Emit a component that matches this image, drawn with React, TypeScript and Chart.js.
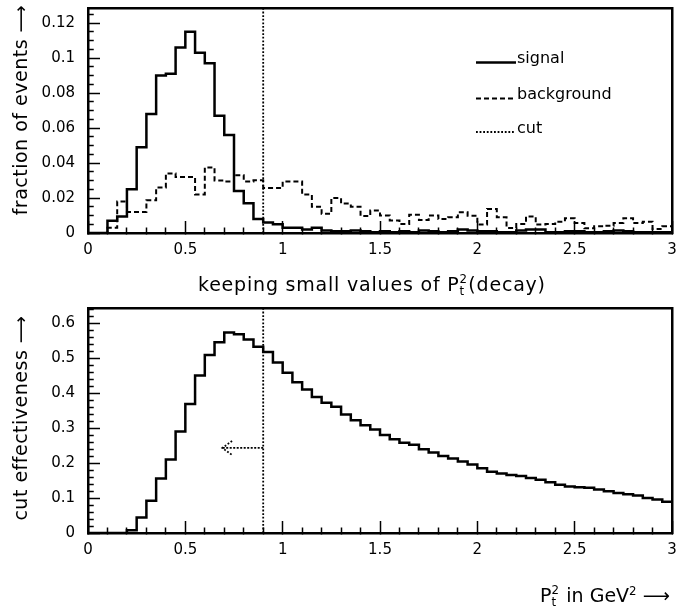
import React, { useEffect, useRef } from 'react';
import { Chart, registerables } from 'chart.js';

Chart.register(...registerables);

const FONT = 'DejaVu Sans';

// Histogram binning along P_t^2 (GeV^2)
const BIN_WIDTH = 0.05;
const X_MIN = 0;
const X_MAX = 3;
const X_MINOR_STEP = 0.1;
const X_MAJOR_TICKS = [0, 0.5, 1, 1.5, 2, 2.5, 3];

// Upper panel: fraction of events per 0.05 GeV^2 bin (bins start at 0)
const signalFraction = [
  0, 0, 0.007, 0.0095, 0.025, 0.049, 0.068, 0.09, 0.091, 0.106,
  0.115, 0.103, 0.097, 0.067, 0.056, 0.024, 0.017, 0.008, 0.006, 0.005,
  0.003, 0.003, 0.002, 0.003, 0.0015, 0.001, 0.001, 0.0015, 0.001, 0.0005,
  0.001, 0.0005, 0.001, 0.0005, 0.0015, 0.001, 0.0005, 0.001, 0.002, 0.0015,
  0.001, 0.001, 0.0005, 0.0005, 0.0015, 0.002, 0.002, 0.0005, 0.0005, 0.001,
  0.001, 0.0005, 0.0005, 0.001, 0.0015, 0.001, 0.0005, 0.0005, 0.0005, 0.0005,
];

const backgroundFraction = [
  0, 0, 0.003, 0.018, 0.012, 0.012, 0.0187, 0.026, 0.034, 0.032,
  0.032, 0.022, 0.0375, 0.03, 0.0295, 0.033, 0.0295, 0.0302, 0.0257, 0.0257,
  0.0295, 0.0295, 0.022, 0.015, 0.011, 0.02, 0.0168, 0.015, 0.0097, 0.0128,
  0.01, 0.0072, 0.0051, 0.0105, 0.0074, 0.01, 0.008, 0.009, 0.0118, 0.0099,
  0.0048, 0.0137, 0.009, 0.0029, 0.0051, 0.0095, 0.0048, 0.0051, 0.0065, 0.0084,
  0.0057, 0.0027, 0.0038, 0.0042, 0.0057, 0.0084, 0.0057, 0.0065, 0.0023, 0.0038,
];

const TOP_Y_MAX = 0.1286;
const TOP_Y_MINOR_STEP = 0.005;
const TOP_Y_MAJOR_TICKS = [0, 0.02, 0.04, 0.06, 0.08, 0.1, 0.12];

// Lower panel: cut effectiveness when keeping values below each bin edge
const cutEffectiveness = [
  0, 0, 0, 0, 0.008, 0.044, 0.092, 0.156, 0.21, 0.29,
  0.369, 0.45, 0.509, 0.545, 0.573, 0.568, 0.553, 0.532, 0.517, 0.487,
  0.458, 0.431, 0.41, 0.389, 0.372, 0.361, 0.339, 0.322, 0.308, 0.296,
  0.28, 0.268, 0.258, 0.252, 0.239, 0.23, 0.22, 0.213, 0.204, 0.196,
  0.185, 0.175, 0.17, 0.166, 0.163, 0.157, 0.152, 0.145, 0.138, 0.133,
  0.131, 0.129, 0.124, 0.119, 0.114, 0.111, 0.107, 0.1, 0.096, 0.089,
];

const BOTTOM_Y_MAX = 0.643;
const BOTTOM_Y_MINOR_STEP = 0.02;
const BOTTOM_Y_MAJOR_TICKS = [0, 0.1, 0.2, 0.3, 0.4, 0.5, 0.6];

// Selection cut and the "keep below" arrow
const CUT_VALUE = 0.9;
const ARROW_TIP_X = 0.69;
const ARROW_BARB_X = 0.74;
const ARROW_Y = 0.243;
const ARROW_BARB_DY = 0.02;

// Frame geometry (canvas pixels)
const CANVAS_W = 676;
const TOP_CANVAS_H = 300;
const BOTTOM_CANVAS_H = 309;
const PLOT_LEFT = 88;
const PLOT_TOP = 8;
const PLOT_BOTTOM = 233;
const PLOT_RIGHT_PAD = 4;

const INK = '#000';

const isMajor = (v: number | undefined, majors: number[]) =>
  v !== undefined && majors.some((m) => Math.abs(m - v) < 1e-9);

const majorLabel = (v: number, majors: number[]) => {
  const m = majors.find((t) => Math.abs(t - v) < 1e-9);
  return m === undefined ? '' : String(m);
};

// Step-histogram points: each bin's lower edge with its content, plus the closing edge.
// Drawn with stepped 'before', so a value is held until the next edge.
const toSteps = (vals: number[]) =>
  vals
    .map((y, i) => ({ x: X_MIN + i * BIN_WIDTH, y }))
    .concat([{ x: X_MIN + vals.length * BIN_WIDTH, y: vals[vals.length - 1] }]);

// Ticks point into the frame; minor ones are shortened with a dash pattern
const xAxis = (canvasH: number) => ({
  type: 'linear',
  position: 'bottom',
  min: X_MIN,
  max: X_MAX,
  afterFit: (s: any) => {
    s.height = canvasH - PLOT_BOTTOM;
    s.paddingLeft = 0;
    s.paddingRight = 0;
  },
  ticks: {
    stepSize: X_MINOR_STEP,
    includeBounds: false,
    autoSkip: false,
    maxRotation: 0,
    minRotation: 0,
    padding: 20,
    color: INK,
    font: { family: FONT, size: 15 },
    callback: (v: number) => majorLabel(v, X_MAJOR_TICKS),
  },
  grid: {
    drawOnChartArea: false,
    tickLength: -12,
    tickWidth: 1.5,
    tickColor: INK,
    tickBorderDash: (c: any) => (isMajor(c.tick?.value, X_MAJOR_TICKS) ? [] : [7, 30]),
  },
  border: { display: true, color: INK, width: 2.5 },
});

const yAxis = (max: number, step: number, majors: number[]) => ({
  type: 'linear',
  position: 'left',
  min: 0,
  max,
  afterFit: (s: any) => {
    s.width = PLOT_LEFT;
    s.paddingTop = 0;
    s.paddingBottom = 0;
  },
  ticks: {
    stepSize: step,
    includeBounds: false,
    autoSkip: false,
    padding: 25,
    color: INK,
    font: { family: FONT, size: 15 },
    callback: (v: number) => majorLabel(v, majors),
  },
  grid: {
    drawOnChartArea: false,
    tickLength: -12,
    tickWidth: 1.5,
    tickColor: INK,
    tickBorderDash: (c: any) => (isMajor(c.tick?.value, majors) ? [] : [7, 30]),
    tickBorderDashOffset: (c: any) => (isMajor(c.tick?.value, majors) ? 0 : 30.75),
  },
  border: { display: true, color: INK, width: 2.5 },
});

// Plain axes used only to close the frame on the top and right sides
const frameAxes = (yMax: number) => ({
  xTop: {
    type: 'linear',
    position: 'top',
    min: X_MIN,
    max: X_MAX,
    afterFit: (s: any) => {
      s.height = 0;
      s.paddingLeft = 0;
      s.paddingRight = 0;
    },
    ticks: { display: false },
    grid: { display: false },
    border: { display: true, color: INK, width: 2.5 },
  },
  yRight: {
    type: 'linear',
    position: 'right',
    min: 0,
    max: yMax,
    afterFit: (s: any) => {
      s.width = 0;
      s.paddingTop = 0;
      s.paddingBottom = 0;
    },
    ticks: { display: false },
    grid: { display: false },
    border: { display: true, color: INK, width: 2.5 },
  },
});

const cutLine = (yMax: number) => ({
  label: 'cut',
  data: [
    { x: CUT_VALUE, y: 0 },
    { x: CUT_VALUE, y: yMax },
  ],
  borderColor: INK,
  borderWidth: 1.8,
  borderDash: [1.8, 1.8],
  pointRadius: 0,
  fill: false,
});

const baseOptions = {
  responsive: false,
  maintainAspectRatio: false,
  animation: false,
  devicePixelRatio: 1,
  events: [],
  layout: { padding: { top: PLOT_TOP, right: PLOT_RIGHT_PAD, left: 0, bottom: 0 } },
  plugins: { legend: { display: false }, tooltip: { enabled: false } },
};

const topConfig = (): any => ({
  type: 'line',
  data: {
    datasets: [
      {
        label: 'signal',
        data: toSteps(signalFraction),
        stepped: 'before',
        borderColor: INK,
        borderWidth: 2.5,
        pointRadius: 0,
        fill: false,
      },
      {
        label: 'background',
        data: toSteps(backgroundFraction),
        stepped: 'before',
        borderColor: INK,
        borderWidth: 2,
        borderDash: [5, 3],
        pointRadius: 0,
        fill: false,
      },
      cutLine(TOP_Y_MAX),
    ],
  },
  options: {
    ...baseOptions,
    scales: {
      x: xAxis(TOP_CANVAS_H),
      y: yAxis(TOP_Y_MAX, TOP_Y_MINOR_STEP, TOP_Y_MAJOR_TICKS),
      ...frameAxes(TOP_Y_MAX),
    },
  },
});

const bottomConfig = (): any => ({
  type: 'line',
  data: {
    datasets: [
      {
        label: 'cut effectiveness',
        data: toSteps(cutEffectiveness),
        stepped: 'before',
        borderColor: INK,
        borderWidth: 2.5,
        pointRadius: 0,
        fill: false,
      },
      cutLine(BOTTOM_Y_MAX),
      {
        label: 'arrow shaft',
        data: [
          { x: CUT_VALUE, y: ARROW_Y },
          { x: ARROW_TIP_X, y: ARROW_Y },
        ],
        borderColor: INK,
        borderWidth: 1.8,
        borderDash: [2, 1.5],
        pointRadius: 0,
        fill: false,
      },
      {
        label: 'arrow head',
        data: [
          { x: ARROW_BARB_X, y: ARROW_Y + ARROW_BARB_DY },
          { x: ARROW_TIP_X, y: ARROW_Y },
          { x: ARROW_BARB_X, y: ARROW_Y - ARROW_BARB_DY },
        ],
        borderColor: INK,
        borderWidth: 1.8,
        borderDash: [1.8, 1.8],
        pointRadius: 0,
        fill: false,
      },
    ],
  },
  options: {
    ...baseOptions,
    scales: {
      x: xAxis(BOTTOM_CANVAS_H),
      y: yAxis(BOTTOM_Y_MAX, BOTTOM_Y_MINOR_STEP, BOTTOM_Y_MAJOR_TICKS),
      ...frameAxes(BOTTOM_Y_MAX),
    },
  },
});

// "P" with subscript t and superscript 2 stacked
function PtSquared() {
  return (
    <span>
      P
      <span
        style={{
          display: 'inline-block',
          position: 'relative',
          fontSize: '0.62em',
          verticalAlign: '-0.35em',
          lineHeight: 1,
          minWidth: '0.75em',
        }}
      >
        t
        <span style={{ position: 'absolute', left: 0, top: '-1.05em' }}>2</span>
      </span>
    </span>
  );
}

const abs = (style: React.CSSProperties): React.CSSProperties => ({
  position: 'absolute',
  whiteSpace: 'nowrap',
  ...style,
});

const legendText: React.CSSProperties = { fontSize: 16, lineHeight: '16px', left: 517 };

export default function App() {
  const topRef = useRef<HTMLCanvasElement>(null);
  const bottomRef = useRef<HTMLCanvasElement>(null);

  useEffect(() => {
    Chart.defaults.font.family = FONT;
    const top = new Chart(topRef.current as HTMLCanvasElement, topConfig());
    const bottom = new Chart(bottomRef.current as HTMLCanvasElement, bottomConfig());
    return () => {
      top.destroy();
      bottom.destroy();
    };
  }, []);

  return (
    <div
      style={{
        position: 'absolute',
        left: 0,
        top: 0,
        width: CANVAS_W,
        height: TOP_CANVAS_H + BOTTOM_CANVAS_H,
        background: '#fff',
        color: INK,
        fontFamily: FONT,
        overflow: 'hidden',
      }}
    >
      <canvas
        ref={topRef}
        width={CANVAS_W}
        height={TOP_CANVAS_H}
        style={{ position: 'absolute', left: 0, top: 0, width: CANVAS_W, height: TOP_CANVAS_H }}
      />
      <canvas
        ref={bottomRef}
        width={CANVAS_W}
        height={BOTTOM_CANVAS_H}
        style={{
          position: 'absolute',
          left: 0,
          top: TOP_CANVAS_H,
          width: CANVAS_W,
          height: BOTTOM_CANVAS_H,
        }}
      />

      {/* legend of the upper panel */}
      <svg
        width={44}
        height={90}
        style={{ position: 'absolute', left: 474, top: 50 }}
      >
        <line x1={2} x2={42} y1={12.5} y2={12.5} stroke={INK} strokeWidth={2.5} />
        <line x1={2} x2={42} y1={48.5} y2={48.5} stroke={INK} strokeWidth={2} strokeDasharray="5 3" />
        <line x1={2} x2={41} y1={82} y2={82} stroke={INK} strokeWidth={1.8} strokeDasharray="1.8 1.8" />
      </svg>
      <div style={abs({ ...legendText, top: 49.5 })}>signal</div>
      <div style={abs({ ...legendText, top: 85.5 })}>background</div>
      <div style={abs({ ...legendText, top: 119.5 })}>cut</div>

      {/* axis titles */}
      <div style={abs({ left: 198, top: 275, fontSize: 19, lineHeight: '19px', letterSpacing: 0.8 })}>
        keeping small values of <PtSquared />(decay)
      </div>
      <div style={abs({ left: 540, top: 582, fontSize: 19, lineHeight: '19px' })}>
        <PtSquared /> in GeV
        <span style={{ fontSize: '0.62em', verticalAlign: '0.6em' }}>2</span> ⟶
      </div>
      <div
        style={abs({
          left: 19.5,
          top: 110,
          fontSize: 19,
          lineHeight: '19px',
          letterSpacing: 0.5,
          transform: 'translate(-50%, -50%) rotate(-90deg)',
        })}
      >
        fraction of events ⟶
      </div>
      <div
        style={abs({
          left: 19.5,
          top: 418,
          fontSize: 19,
          lineHeight: '19px',
          letterSpacing: 0.5,
          transform: 'translate(-50%, -50%) rotate(-90deg)',
        })}
      >
        cut effectiveness ⟶
      </div>
    </div>
  );
}
